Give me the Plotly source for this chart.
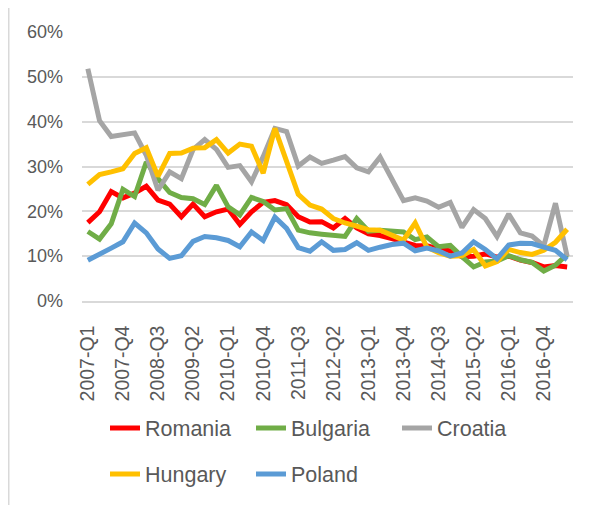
import plotly.graph_objects as go

quarters = [
    "2007-Q1", "2007-Q2", "2007-Q3", "2007-Q4",
    "2008-Q1", "2008-Q2", "2008-Q3", "2008-Q4",
    "2009-Q1", "2009-Q2", "2009-Q3", "2009-Q4",
    "2010-Q1", "2010-Q2", "2010-Q3", "2010-Q4",
    "2011-Q1", "2011-Q2", "2011-Q3", "2011-Q4",
    "2012-Q1", "2012-Q2", "2012-Q3", "2012-Q4",
    "2013-Q1", "2013-Q2", "2013-Q3", "2013-Q4",
    "2014-Q1", "2014-Q2", "2014-Q3", "2014-Q4",
    "2015-Q1", "2015-Q2", "2015-Q3", "2015-Q4",
    "2016-Q1", "2016-Q2", "2016-Q3", "2016-Q4",
    "2017-Q1", "2017-Q2",
]

tick_labels = [
    "2007-Q1", "2007-Q4", "2008-Q3", "2009-Q2", "2010-Q1", "2010-Q4", "2011-Q3",
    "2012-Q2", "2013-Q1", "2013-Q4", "2014-Q3", "2015-Q2", "2016-Q1", "2016-Q4",
]

romania = [17.5, 19.9, 24.4, 23.0, 24.1, 25.6, 22.5, 21.6, 18.8, 21.6, 18.8, 19.9,
           20.5, 17.1, 19.9, 22.0, 22.4, 21.5, 18.8, 17.6, 17.7, 16.3, 18.4, 16.3,
           15.0, 14.6, 13.9, 13.2, 12.4, 12.3, 11.6, 11.2, 9.9, 10.0, 10.5, 9.8,
           10.0, 9.1, 8.6, 7.6, 7.9, 7.6]

bulgaria = [15.5, 13.8, 17.2, 24.9, 23.3, 31.0, 27.3, 24.2, 23.1, 22.8, 21.5, 25.8,
            21.0, 19.2, 23.1, 22.2, 20.3, 20.6, 15.8, 15.2, 14.9, 14.6, 14.4, 18.4,
            15.6, 15.8, 15.7, 15.4, 13.7, 14.3, 12.1, 12.4, 9.9, 7.6, 8.7, 8.9,
            10.1, 9.2, 8.6, 6.7, 8.0, 10.4]

croatia = [51.8, 40.2, 36.7, 37.0, 37.5, 32.5, 24.7, 28.8, 27.3, 33.8, 36.0, 33.8,
           29.8, 30.2, 26.6, 32.2, 38.5, 37.8, 30.1, 32.1, 30.7, 31.4, 32.2, 29.7,
           28.8, 32.1, 27.3, 22.4, 23.0, 22.3, 20.9, 22.0, 16.4, 20.4, 18.4, 14.4,
           19.4, 15.2, 14.5, 12.3, 21.8, 10.0]

hungary = [26.0, 28.2, 28.8, 29.5, 32.9, 34.2, 27.8, 32.9, 33.0, 34.1, 34.2, 36.0,
           33.0, 35.0, 34.5, 28.5, 38.5, 31.4, 23.8, 21.4, 20.5, 18.4, 17.4, 16.7,
           15.9, 15.8, 14.7, 13.6, 17.4, 12.0, 10.8, 10.0, 10.1, 11.5, 7.8, 8.8,
           11.5, 10.8, 10.4, 11.3, 13.1, 16.0]

poland = [9.1, 10.6, 11.8, 13.2, 17.4, 15.2, 11.6, 9.5, 10.1, 13.3, 14.4, 14.1,
          13.5, 12.1, 15.4, 13.5, 18.7, 16.2, 11.9, 11.1, 13.2, 11.3, 11.5, 13.0,
          11.3, 12.0, 12.6, 12.9, 11.2, 11.8, 11.2, 10.0, 10.7, 13.2, 11.5, 9.4,
          12.5, 12.9, 12.8, 12.0, 11.3, 9.2]

series = [
    ("Romania", romania, "#FF0000", "legend"),
    ("Bulgaria", bulgaria, "#70AD47", "legend"),
    ("Croatia", croatia, "#A5A5A5", "legend"),
    ("Hungary", hungary, "#FFC000", "legend2"),
    ("Poland", poland, "#5B9BD5", "legend2"),
]

FONT = "Liberation Sans"
TXT = "#595959"

fig = go.Figure()
for name, vals, color, leg in series:
    fig.add_trace(go.Scatter(
        x=quarters, y=vals, name=name, mode="lines",
        line=dict(color=color, width=5),
        legend=leg,
    ))

legend_common = dict(
    orientation="h", xref="container", yref="container",
    xanchor="left", yanchor="middle",
    font=dict(family=FONT, size=21.5, color=TXT),
    entrywidth=101, entrywidthmode="pixels",
    bgcolor="rgba(0,0,0,0)", itemwidth=30,
)

W, H = 596, 505
ML, MR, MT, MB = 74, 31, 24, 212
plot_w = W - ML - MR
plot_h = H - MT - MB

fig.update_layout(
    width=W, height=H,
    margin=dict(l=ML, r=MR, t=MT, b=MB, autoexpand=False),
    paper_bgcolor="white", plot_bgcolor="white",
    font=dict(family=FONT, color=TXT),
    showlegend=True,
    legend=dict(x=97 / W, y=1 - 420 / H, **legend_common),
    legend2=dict(x=97 / W, y=1 - 466 / H, **legend_common),
    xaxis=dict(
        type="category", range=[-0.5, len(quarters) - 0.5],
        tickmode="array", tickvals=tick_labels, ticktext=tick_labels,
        tickangle=-90, tickfont=dict(family=FONT, size=19.5, color=TXT),
        showgrid=False, showline=True, linecolor="#D9D9D9", linewidth=1.5,
        ticks="", ticklabelstandoff=15,
    ),
    yaxis=dict(
        range=[0, 60], dtick=10, ticksuffix="%",
        tickfont=dict(family=FONT, size=18, color=TXT),
        showgrid=True, gridcolor="#D9D9D9", gridwidth=1.5,
        zeroline=False, showline=False, ticks="", ticklabelstandoff=18,
    ),
    shapes=[dict(
        type="line", xref="paper", yref="paper",
        x0=(0.75 - ML) / plot_w, x1=(0.75 - ML) / plot_w,
        y0=-2.0, y1=(plot_h + MT) / plot_h,
        line=dict(color="#D9D9D9", width=1.5),
        layer="below",
    )],
)

fig.write_html("out.html")
